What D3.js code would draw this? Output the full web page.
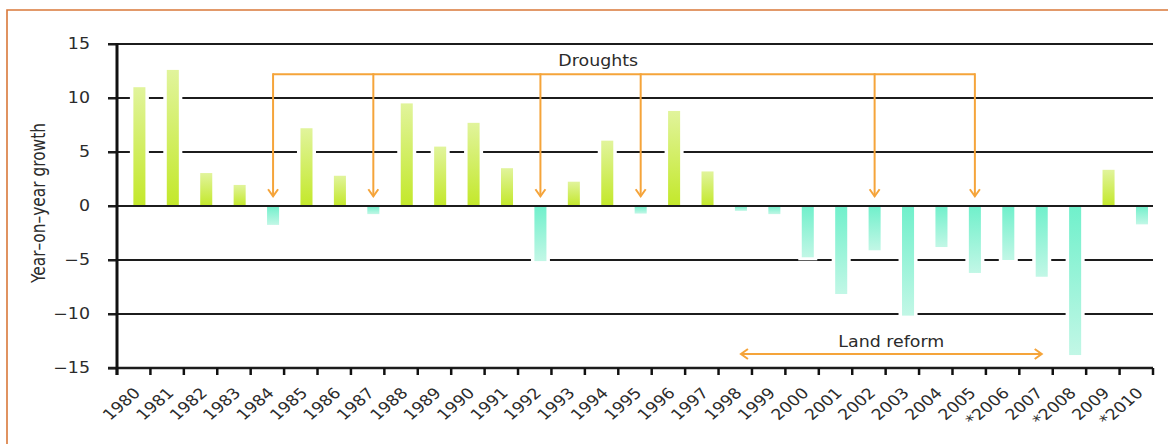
<!DOCTYPE html>
<html>
<head>
<meta charset="utf-8">
<script src="https://cdn.jsdelivr.net/npm/d3@7"></script>
<style>
  html, body { margin: 0; padding: 0; background: #fff; }
  svg { display: block; }
  text { font-family: "DejaVu Sans", Verdana, sans-serif; fill: #2b2b2b; }
</style>
</head>
<body>
<svg id="chart" width="1168" height="444"></svg>
<script>
// Year-on-year growth, 1980–2010
const years = [1980, 1981, 1982, 1983, 1984, 1985, 1986, 1987, 1988, 1989,
               1990, 1991, 1992, 1993, 1994, 1995, 1996, 1997, 1998, 1999,
               2000, 2001, 2002, 2003, 2004, 2005, 2006, 2007, 2008, 2009, 2010];
const yearLabels = ["1980", "1981", "1982", "1983", "1984", "1985", "1986", "1987", "1988", "1989",
                    "1990", "1991", "1992", "1993", "1994", "1995", "1996", "1997", "1998", "1999",
                    "2000", "2001", "2002", "2003", "2004", "2005", "*2006", "2007", "*2008", "2009", "*2010"];
const growth = [11.0, 12.6, 3.05, 1.95, -1.75, 7.2, 2.8, -0.75, 9.5, 5.5,
                7.7, 3.5, -5.1, 2.25, 6.05, -0.7, 8.8, 3.2, -0.45, -0.75,
                -4.75, -8.15, -4.1, -10.15, -3.8, -6.2, -5.0, -6.55, -13.8, 3.35, -1.7];
const yTicks = [15, 10, 5, 0, -5, -10, -15];
const yTickLabels = ["15", "10", "5", "0", "\u22125", "\u221210", "\u221215"];

// Annotations
const droughtYears = [1984, 1987, 1992, 1995, 2002, 2005];
const droughtBracketLevel = 12.2;
const droughtArrowTip = 0.9;
const landReformYears = [1998, 2007];
const landReformLevel = -13.7;

// Text is widened slightly relative to its height
const SX = 1.16;

const svg = d3.select("#chart");
const plotL = 117, plotR = 1153, plotT = 44, plotB = 368;

const x = d3.scaleBand().domain(years).range([plotL, plotR]).padding(0);
const y = d3.scaleLinear().domain([-15, 15]).range([plotB, plotT]);
const bw = x.bandwidth();
const barX = d => x(d) + bw * 0.49;
const barW = bw * 0.36;
const barC = d => barX(d) + barW / 2;

const defs = svg.append("defs");
const gPos = defs.append("linearGradient").attr("id", "gPos").attr("x1", 0).attr("y1", 0).attr("x2", 0).attr("y2", 1);
gPos.append("stop").attr("offset", "0%").attr("stop-color", "#e1f49c");
gPos.append("stop").attr("offset", "100%").attr("stop-color", "#c3e82a");
const gNeg = defs.append("linearGradient").attr("id", "gNeg").attr("x1", 0).attr("y1", 0).attr("x2", 0).attr("y2", 1);
gNeg.append("stop").attr("offset", "0%").attr("stop-color", "#70f0cb");
gNeg.append("stop").attr("offset", "100%").attr("stop-color", "#c2f7e6");
const mk = defs.append("marker").attr("id", "chev")
  .attr("viewBox", "-10 -10 20 20").attr("refX", 0).attr("refY", 0)
  .attr("markerWidth", 20).attr("markerHeight", 20).attr("markerUnits", "userSpaceOnUse")
  .attr("orient", "auto-start-reverse");
mk.append("path").attr("d", "M-7,-5 L0,0 L-7,5").attr("fill", "none")
  .attr("stroke", "#f5a43a").attr("stroke-width", 2);

// Frame
svg.append("path").attr("d", "M7,444 L7,10 L1168,10")
  .attr("fill", "none").attr("stroke", "#d9783a").attr("stroke-width", 1.6);

// Gridlines
svg.append("g").selectAll("line").data(yTicks.filter(v => v !== 0 && v !== -15)).join("line")
  .attr("x1", plotL - 9).attr("x2", plotR)
  .attr("y1", d => y(d)).attr("y2", d => y(d))
  .attr("stroke", "#1c1c1c").attr("stroke-width", 2);

// Bars with a white halo that breaks the gridlines
const bars = svg.append("g");
bars.selectAll("rect.halo").data(years).join("rect").attr("class", "halo")
  .attr("x", d => barX(d) - 3.5)
  .attr("y", (d, i) => growth[i] >= 0 ? y(growth[i]) - 3 : y(0))
  .attr("width", barW + 7)
  .attr("height", (d, i) => Math.abs(y(growth[i]) - y(0)) + 3)
  .attr("fill", "#fff");
bars.selectAll("rect.bar").data(years).join("rect").attr("class", "bar")
  .attr("x", d => barX(d))
  .attr("y", (d, i) => Math.min(y(growth[i]), y(0)))
  .attr("width", barW)
  .attr("height", (d, i) => Math.abs(y(growth[i]) - y(0)))
  .attr("fill", (d, i) => growth[i] >= 0 ? "url(#gPos)" : "url(#gNeg)");

// Zero line and bottom axis line
svg.append("line").attr("x1", plotL - 9).attr("x2", plotR).attr("y1", y(0)).attr("y2", y(0))
  .attr("stroke", "#1c1c1c").attr("stroke-width", 2);
svg.append("line").attr("x1", plotL - 9).attr("x2", plotR).attr("y1", y(-15)).attr("y2", y(-15))
  .attr("stroke", "#1c1c1c").attr("stroke-width", 2.5);

// Y axis
const yAxis = svg.append("g").attr("transform", `translate(${plotL},0)`)
  .call(d3.axisLeft(y).tickValues(yTicks).tickSize(9).tickPadding(18)
    .tickFormat((d, i) => yTickLabels[i]));
yAxis.select(".domain").remove();
yAxis.selectAll(".tick line").attr("stroke", "#1c1c1c").attr("stroke-width", 2);
yAxis.selectAll(".tick text")
  .attr("x", null)
  .attr("transform", `translate(-27,0) scale(${SX},1)`)
  .style("font-size", "15px").style("font-family", "DejaVu Sans, sans-serif").attr("fill", "#333");
svg.append("line").attr("x1", plotL).attr("x2", plotL).attr("y1", plotT - 1).attr("y2", plotB + 7)
  .attr("stroke", "#111").attr("stroke-width", 3);

// X axis tick marks at category boundaries
const bounds = years.map(d => x(d)).concat([plotR]);
svg.append("g").selectAll("line").data(bounds).join("line")
  .attr("x1", d => d).attr("x2", d => d).attr("y1", plotB).attr("y2", plotB + 7)
  .attr("stroke", "#111").attr("stroke-width", 2.5);

// X labels
svg.append("g").selectAll("text").data(years).join("text")
  .attr("transform", d => `translate(${barC(d) + 2},394) scale(${SX},1) rotate(-45)`)
  .attr("text-anchor", "end")
  .style("font-size", "15px")
  .attr("fill", "#333")
  .text((d, i) => yearLabels[i]);

// Y axis title
svg.append("text")
  .attr("transform", `translate(45,203) scale(${SX},1) rotate(-90)`)
  .attr("text-anchor", "middle")
  .attr("textLength", 160)
  .attr("lengthAdjust", "spacingAndGlyphs")
  .style("font-size", "17px")
  .attr("fill", "#222")
  .text("Year\u2013on\u2013year growth");

// Droughts bracket
const orange = "#f5a43a";
const dx = droughtYears.map(barC);
svg.append("line")
  .attr("x1", d3.min(dx)).attr("x2", d3.max(dx))
  .attr("y1", y(droughtBracketLevel)).attr("y2", y(droughtBracketLevel))
  .attr("stroke", orange).attr("stroke-width", 2);
svg.append("g").selectAll("line").data(droughtYears).join("line")
  .attr("x1", d => barC(d)).attr("x2", d => barC(d))
  .attr("y1", y(droughtBracketLevel) - 1).attr("y2", y(droughtArrowTip))
  .attr("stroke", orange).attr("stroke-width", 2)
  .attr("marker-end", "url(#chev)");
svg.append("text")
  .attr("transform", `translate(${x(1994) + bw * 0.4},${y(droughtBracketLevel) - 8}) scale(${SX},1)`)
  .attr("text-anchor", "middle")
  .style("font-size", "15px")
  .text("Droughts");

// Land reform span
svg.append("line")
  .attr("x1", barC(landReformYears[0])).attr("x2", barC(landReformYears[1]))
  .attr("y1", y(landReformLevel)).attr("y2", y(landReformLevel))
  .attr("stroke", orange).attr("stroke-width", 2)
  .attr("marker-start", "url(#chev)").attr("marker-end", "url(#chev)");
svg.append("text")
  .attr("transform", `translate(${(barC(landReformYears[0]) + barC(landReformYears[1])) / 2},${y(landReformLevel) - 7}) scale(${SX},1)`)
  .attr("text-anchor", "middle")
  .style("font-size", "15px")
  .text("Land reform");
</script>
</body>
</html>
